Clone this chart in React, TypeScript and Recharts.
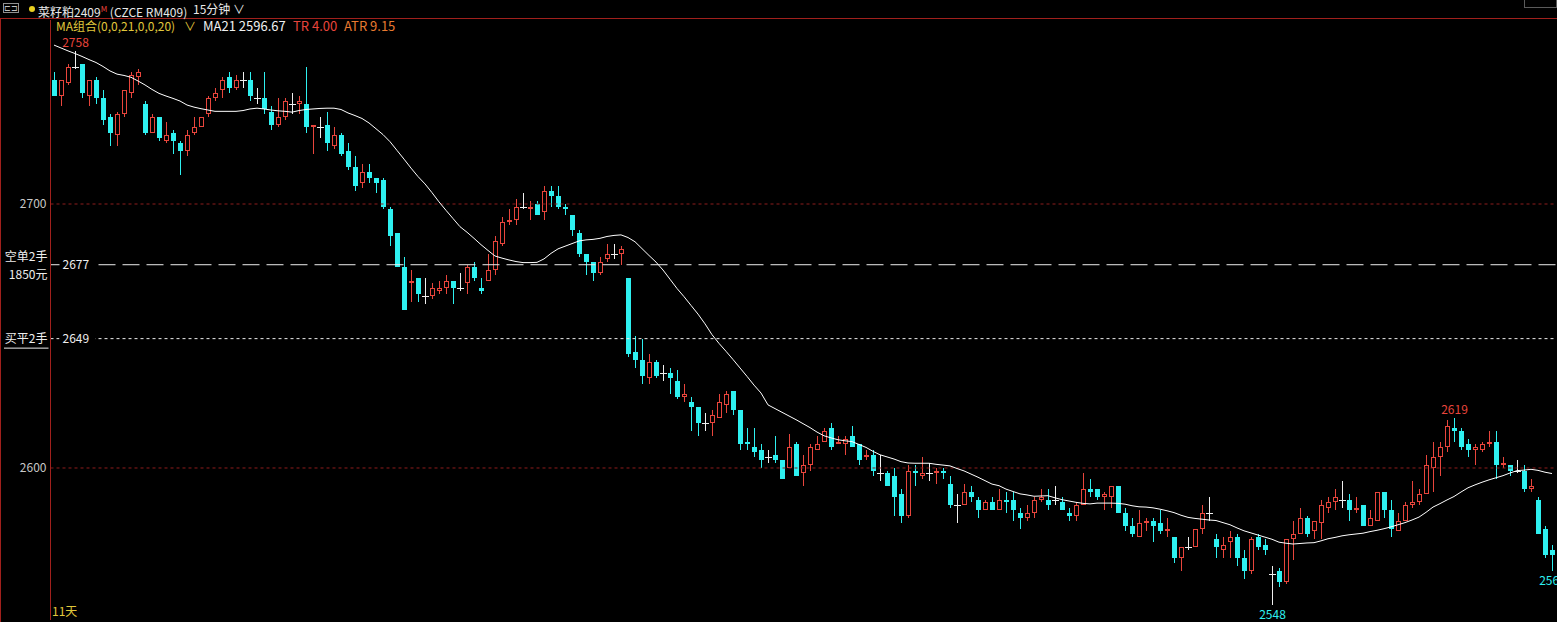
import React from 'react';
import { ComposedChart, Bar, Line, XAxis, YAxis, ReferenceLine } from 'recharts';

// ---------- data (15-minute bars, 菜籽粕2409) ----------
const opens = [
  2747, 2741, 2746, 2752, 2753, 2741, 2747, 2740, 2733, 2726,
  2734, 2742, 2748, 2738, 2727, 2733, 2724, 2727, 2723, 2720,
  2727, 2729, 2734, 2740, 2743, 2748, 2744, 2747, 2747, 2740,
  2740, 2735, 2730, 2733, 2738, 2738, 2738, 2729, 2729, 2730,
  2722, 2726, 2720, 2714, 2708, 2712, 2710, 2709, 2698, 2689,
  2676, 2670, 2672, 2665, 2665, 2667, 2668, 2671, 2668, 2670,
  2676, 2668, 2671, 2675, 2685, 2693, 2694, 2699, 2698, 2700,
  2697, 2705, 2703, 2699, 2696, 2689, 2681, 2678, 2674, 2679,
  2681, 2681, 2672, 2644, 2641, 2634, 2640, 2636, 2636, 2633,
  2627, 2625, 2623, 2617, 2617, 2619, 2624, 2629, 2622, 2610,
  2608, 2607, 2604, 2605, 2603, 2600, 2609, 2598, 2601, 2607,
  2610, 2615, 2609, 2609, 2612, 2609, 2604, 2605, 2598, 2598,
  2597, 2590, 2582, 2599, 2597, 2598, 2598, 2599, 2594, 2586,
  2586, 2591, 2588, 2584, 2587, 2584, 2588, 2588, 2583, 2581,
  2583, 2588, 2588, 2588, 2587, 2583, 2582, 2586, 2592, 2592,
  2589, 2589, 2593, 2583, 2578, 2574, 2579, 2580, 2579, 2576,
  2574, 2566, 2570, 2570, 2577, 2583, 2573, 2569, 2572, 2574,
  2566, 2561, 2574, 2571, 2560, 2561, 2557, 2573, 2575, 2581,
  2576, 2579, 2585, 2587, 2588, 2588, 2584, 2586, 2578, 2580,
  2591, 2584, 2576, 2580, 2586, 2587, 2590, 2600, 2604, 2608,
  2615, 2614, 2609, 2607, 2607, 2609, 2610, 2601, 2601, 2599,
  2599, 2592, 2588, 2577, 2569,
];
const highs = [
  2750, 2747, 2753, 2758, 2753, 2747, 2748, 2743, 2734, 2735,
  2743, 2750, 2751, 2739, 2734, 2733, 2731, 2728, 2724, 2728,
  2733, 2733, 2741, 2744, 2748, 2750, 2749, 2750, 2750, 2744,
  2750, 2737, 2740, 2740, 2742, 2741, 2752, 2730, 2733, 2735,
  2729, 2727, 2723, 2718, 2715, 2715, 2710, 2710, 2699, 2689,
  2680, 2675, 2672, 2672, 2670, 2671, 2673, 2671, 2674, 2677,
  2678, 2672, 2681, 2688, 2695, 2698, 2702, 2704, 2701, 2701,
  2707, 2707, 2707, 2700, 2696, 2690, 2681, 2678, 2680, 2685,
  2685, 2684, 2672, 2650, 2649, 2643, 2641, 2639, 2638, 2637,
  2632, 2627, 2623, 2621, 2622, 2628, 2629, 2629, 2622, 2615,
  2615, 2609, 2607, 2612, 2603, 2613, 2610, 2605, 2609, 2612,
  2615, 2617, 2612, 2612, 2616, 2609, 2607, 2607, 2605, 2599,
  2600, 2592, 2601, 2601, 2604, 2602, 2600, 2600, 2597, 2590,
  2594, 2593, 2589, 2588, 2589, 2592, 2591, 2591, 2585, 2586,
  2589, 2592, 2592, 2593, 2589, 2585, 2587, 2598, 2596, 2592,
  2591, 2593, 2593, 2585, 2581, 2584, 2581, 2581, 2584, 2581,
  2574, 2570, 2574, 2577, 2586, 2589, 2575, 2574, 2576, 2575,
  2569, 2574, 2575, 2573, 2563, 2562, 2573, 2580, 2585, 2582,
  2580, 2588, 2589, 2592, 2595, 2590, 2589, 2586, 2584, 2591,
  2591, 2588, 2583, 2587, 2595, 2592, 2605, 2610, 2610, 2618,
  2619, 2615, 2611, 2609, 2610, 2614, 2614, 2604, 2601, 2603,
  2601, 2596, 2589, 2578, 2571,
];
const lows = [
  2741, 2737, 2745, 2751, 2740, 2737, 2738, 2730, 2722, 2722,
  2733, 2740, 2745, 2726, 2727, 2724, 2723, 2719, 2711, 2718,
  2726, 2729, 2733, 2739, 2740, 2742, 2743, 2744, 2739, 2738,
  2734, 2728, 2729, 2732, 2734, 2734, 2727, 2719, 2725, 2720,
  2721, 2718, 2713, 2705, 2706, 2708, 2704, 2698, 2684, 2676,
  2660, 2663, 2663, 2662, 2664, 2666, 2666, 2662, 2667, 2666,
  2671, 2666, 2671, 2673, 2684, 2692, 2692, 2698, 2694, 2696,
  2694, 2699, 2698, 2696, 2688, 2680, 2673, 2671, 2673, 2678,
  2679, 2677, 2642, 2638, 2632, 2632, 2634, 2633, 2628, 2626,
  2625, 2614, 2612, 2614, 2612, 2619, 2621, 2620, 2607, 2607,
  2604, 2600, 2602, 2602, 2596, 2600, 2597, 2593, 2599, 2607,
  2610, 2607, 2609, 2605, 2608, 2601, 2603, 2597, 2595, 2593,
  2582, 2579, 2581, 2593, 2596, 2595, 2594, 2596, 2585, 2579,
  2586, 2587, 2581, 2584, 2584, 2584, 2583, 2580, 2577, 2580,
  2581, 2587, 2584, 2586, 2584, 2580, 2580, 2586, 2589, 2588,
  2584, 2585, 2583, 2576, 2574, 2574, 2576, 2572, 2575, 2574,
  2564, 2561, 2569, 2570, 2575, 2580, 2566, 2566, 2566, 2563,
  2558, 2560, 2569, 2567, 2548, 2555, 2556, 2565, 2575, 2574,
  2573, 2573, 2583, 2584, 2585, 2580, 2583, 2578, 2578, 2580,
  2581, 2574, 2576, 2580, 2585, 2586, 2590, 2591, 2597, 2606,
  2610, 2607, 2604, 2601, 2606, 2608, 2596, 2600, 2597, 2598,
  2591, 2591, 2575, 2566, 2561,
];
const closes = [
  2741, 2747, 2752, 2752, 2742, 2747, 2740, 2732, 2727, 2734,
  2743, 2749, 2750, 2727, 2733, 2725, 2726, 2724, 2720, 2726,
  2729, 2733, 2740, 2742, 2747, 2744, 2747, 2747, 2741, 2740,
  2736, 2730, 2733, 2739, 2738, 2739, 2729, 2730, 2729, 2723,
  2726, 2719, 2714, 2707, 2712, 2710, 2708, 2699, 2688, 2676,
  2660, 2671, 2666, 2665, 2668, 2668, 2671, 2668, 2668, 2676,
  2672, 2667, 2675, 2686, 2693, 2694, 2699, 2699, 2699, 2696,
  2705, 2703, 2699, 2698, 2690, 2681, 2678, 2674, 2678, 2681,
  2681, 2683, 2643, 2641, 2635, 2640, 2635, 2636, 2634, 2627,
  2628, 2623, 2617, 2617, 2620, 2625, 2628, 2622, 2609, 2609,
  2606, 2603, 2604, 2603, 2596, 2608, 2597, 2601, 2608, 2609,
  2614, 2608, 2610, 2611, 2608, 2603, 2605, 2599, 2598, 2593,
  2589, 2582, 2599, 2598, 2598, 2598, 2599, 2598, 2586, 2586,
  2591, 2589, 2584, 2587, 2584, 2588, 2587, 2584, 2581, 2583,
  2588, 2589, 2586, 2588, 2584, 2582, 2586, 2592, 2591, 2589,
  2590, 2593, 2583, 2578, 2575, 2579, 2580, 2578, 2576, 2577,
  2566, 2570, 2570, 2577, 2583, 2583, 2570, 2571, 2574, 2566,
  2561, 2573, 2570, 2569, 2560, 2557, 2573, 2575, 2581, 2575,
  2580, 2586, 2587, 2589, 2588, 2584, 2585, 2578, 2581, 2591,
  2584, 2577, 2580, 2586, 2587, 2590, 2601, 2604, 2608, 2616,
  2614, 2608, 2607, 2608, 2609, 2610, 2601, 2602, 2599, 2599,
  2592, 2593, 2575, 2567, 2567,
];
const ma21 = [
  2760.2, 2759.1, 2758.0, 2757.0, 2755.9, 2754.7, 2753.6, 2752.1, 2750.4, 2749.2,
  2748.7, 2748.0, 2746.6, 2745.1, 2743.4, 2741.9, 2740.9, 2740.0, 2739.0, 2737.5,
  2736.7, 2736.1, 2735.6, 2735.1, 2735.1, 2735.1, 2735.1, 2735.4, 2736.0, 2736.3,
  2736.0, 2735.6, 2735.3, 2735.1, 2734.8, 2735.4, 2735.8, 2736.0, 2736.2, 2736.3,
  2736.3, 2735.8, 2734.5, 2733.5, 2732.4, 2730.7, 2728.5, 2726.3, 2723.6, 2720.3,
  2717.0, 2713.6, 2710.4, 2707.6, 2704.3, 2700.8, 2697.6, 2694.5, 2691.4, 2689.3,
  2687.0, 2684.6, 2682.4, 2680.3, 2679.5, 2678.8, 2678.2, 2677.8, 2677.8, 2677.9,
  2679.2, 2681.3, 2683.0, 2684.0, 2685.0, 2686.0, 2686.4, 2686.6, 2687.0, 2687.7,
  2688.1, 2688.3, 2687.3, 2685.7, 2683.1, 2680.5, 2678.0, 2675.0, 2671.5, 2668.0,
  2664.9, 2661.6, 2658.3, 2654.6, 2650.5, 2647.2, 2644.2, 2641.1, 2637.9, 2634.7,
  2631.4, 2628.4, 2623.9, 2622.5, 2621.1, 2619.7, 2618.3, 2616.8, 2615.3, 2613.6,
  2612.2, 2611.4, 2610.7, 2610.3, 2610.0, 2608.9, 2607.8, 2606.3, 2605.0, 2604.2,
  2603.4, 2602.4, 2601.9, 2601.8, 2601.8, 2601.8, 2601.4, 2601.1, 2600.8, 2599.8,
  2598.9, 2597.7, 2596.5, 2595.2, 2593.9, 2593.3, 2592.0, 2591.1, 2590.2, 2589.8,
  2589.3, 2589.4, 2589.5, 2588.7, 2588.0, 2587.5, 2587.0, 2586.6, 2586.4, 2586.7,
  2586.7, 2586.7, 2586.6, 2586.3, 2585.7, 2585.3, 2585.2, 2584.9, 2584.4, 2583.8,
  2583.1, 2582.1, 2581.3, 2580.9, 2580.6, 2580.3, 2580.1, 2579.3, 2578.5, 2577.3,
  2576.2, 2575.4, 2574.6, 2573.8, 2573.0, 2571.9, 2571.5, 2571.2, 2571.4, 2571.6,
  2571.7, 2572.4, 2573.2, 2573.7, 2574.3, 2574.7, 2575.0, 2575.3, 2575.9, 2576.4,
  2577.0, 2577.7, 2578.5, 2579.3, 2580.3, 2581.4, 2583.2, 2585.2, 2586.5, 2587.9,
  2589.2, 2590.9, 2592.5, 2593.6, 2594.6, 2595.5, 2596.3, 2597.1, 2598.1, 2599.0,
  2599.2, 2599.5, 2599.1, 2598.4, 2597.9,
];
const highMarks = [3, 200];   // bars whose high is annotated
const lowMarks = [174, 214];  // bars whose low is annotated
const yTicks = [2700, 2600];
const shortOrder = { price: 2677, name: '空单2手', pnl: '1850元' };
const closeOrder = { price: 2649, name: '买平2手' };
const yDomain = [2542.42, 2769.7];

const data = opens.map((o, i) => ({
  i,
  open: o,
  high: highs[i],
  low: lows[i],
  close: closes[i],
  ma: ma21[i],
  range: [lows[i], highs[i]],
}));

// ---------- style ----------
const W = 1557;
const H = 622;
const RED = '#e8453c';
const CYAN = '#2ef0f0';
const WHITE = '#eeeeee';
const FRAME = '#a0201c';
const FONT = '"Noto Sans CJK SC", "Noto Sans", sans-serif';

function Candle(props: any) {
  const { x, y, width, height, payload } = props;
  if (!payload) return null;
  const { open, close, high, low, i } = payload;
  const h = Math.abs(height || 0);
  const top = height < 0 ? y + height : y;
  const k = high === low ? 0 : h / (high - low);
  const py = (p: number) => Math.round(top + (high - p) * k);
  const cx = Math.floor(x + width / 2) + 0.5;
  const yH = py(high);
  const yL = py(low);
  const els: any[] = [];
  if (close > open) {
    const yT = py(close);
    const yB = py(open);
    if (yT > yH) els.push(<line key="u" x1={cx} x2={cx} y1={yH} y2={yT} stroke={RED} />);
    if (yL > yB) els.push(<line key="d" x1={cx} x2={cx} y1={yB} y2={yL} stroke={RED} />);
    els.push(
      <rect key="b" x={cx - 2} y={yT + 0.5} width={4} height={Math.max(yB - yT - 1, 0)} fill="#000" stroke={RED} strokeWidth={1} />
    );
  } else if (close < open) {
    const yT = py(open);
    const yB = py(close);
    els.push(<line key="w" x1={cx} x2={cx} y1={yH} y2={yL} stroke={CYAN} />);
    els.push(<rect key="b" x={cx - 2.5} y={yT} width={5} height={Math.max(yB - yT, 1)} fill={CYAN} />);
  } else {
    const yo = py(open) + 0.5;
    els.push(<line key="w" x1={cx} x2={cx} y1={yH} y2={yL} stroke={WHITE} />);
    els.push(<line key="h" x1={cx - 3.5} x2={cx + 3.5} y1={yo} y2={yo} stroke={WHITE} />);
  }
  if (highMarks.includes(i)) {
    els.push(
      <text key="th" x={cx} y={yH - 4} textAnchor="middle" fill={RED} fontSize={12} fontFamily={FONT}>
        {high}
      </text>
    );
  }
  if (lowMarks.includes(i)) {
    els.push(
      <text key="tl" x={cx} y={yL + 14} textAnchor="middle" fill={CYAN} fontSize={12} fontFamily={FONT}>
        {low}
      </text>
    );
  }
  return <g>{els}</g>;
}

function OrderLabel(props: any) {
  const { viewBox, price, name, pnl } = props;
  if (!viewBox) return null;
  const x0 = viewBox.x;
  const yy = viewBox.y;
  return (
    <g fontFamily={FONT} fontSize={12}>
      <rect x={x0 + 9} y={yy - 8} width={36} height={16} fill="#000" />
      <text x={x0 + 12} y={yy + 4.5} fill={WHITE}>{price}</text>
      {pnl ? (
        <>
          <text x={x0 - 3} y={yy - 4} textAnchor="end" fill={WHITE}>{name}</text>
          <text x={x0 - 3} y={yy + 14} textAnchor="end" fill={WHITE}>{pnl}</text>
        </>
      ) : (
        <>
          <text x={x0 - 3} y={yy + 4.5} textAnchor="end" fill={WHITE}>{name}</text>
          <line x1={4} x2={x0 - 2} y1={yy + 9.5} y2={yy + 9.5} stroke={WHITE} />
        </>
      )}
    </g>
  );
}

export default function App() {
  return (
    <div style={{ position: 'absolute', left: 0, top: 0, width: W, height: H, background: '#000', overflow: 'hidden', fontFamily: FONT }}>
      <ComposedChart
        width={W}
        height={H}
        data={data}
        margin={{ top: 20, right: 1.5, bottom: 2, left: 0.5 }}
        barCategoryGap={0}
      >
        <XAxis dataKey="i" type="category" height={0} tick={false} tickLine={false} axisLine={{ stroke: FRAME }} interval={0} />
        <YAxis
          type="number"
          domain={yDomain}
          allowDataOverflow
          ticks={yTicks}
          width={50}
          tickSize={0}
          tickMargin={4}
          tickLine={false}
          axisLine={{ stroke: FRAME }}
          tick={{ fill: '#c8c8c8', fontSize: 12, fontFamily: FONT }}
        />
        {yTicks.map((t) => (
          <ReferenceLine key={t} y={t} stroke="#8c1c1c" strokeDasharray="3 3" />
        ))}
        <ReferenceLine
          y={shortOrder.price}
          stroke={WHITE}
          strokeDasharray="17 7"
          label={<OrderLabel price={shortOrder.price} name={shortOrder.name} pnl={shortOrder.pnl} />}
        />
        <ReferenceLine
          y={closeOrder.price}
          stroke={WHITE}
          strokeDasharray="3 3"
          label={<OrderLabel price={closeOrder.price} name={closeOrder.name} />}
        />
        <Bar dataKey="range" barSize={5} shape={<Candle />} isAnimationActive={false} />
        <Line dataKey="ma" type="linear" stroke="#ffffff" strokeWidth={1} dot={false} activeDot={false} isAnimationActive={false} />
      </ComposedChart>

      {/* frame pieces */}
      <div style={{ position: 'absolute', left: 0, top: 19, width: 1, height: H - 19, background: FRAME }} />
      <div style={{ position: 'absolute', left: 1524, top: -1, width: 33, height: 9, border: '1px solid #5a5a5a', boxSizing: 'border-box' }} />

      {/* header row 1 */}
      <div style={{ position: 'absolute', left: 0, top: 0, width: W, height: 19, borderBottom: `1px solid ${FRAME}`, boxSizing: 'border-box', fontSize: 12, color: '#e8e8e8', whiteSpace: 'nowrap' }}>
        <span style={{ position: 'absolute', left: 3, top: 3, width: 16, height: 10, border: '1px solid #909090', boxSizing: 'border-box', fontSize: 8, lineHeight: '8px', color: '#c0c0c0', textAlign: 'center' }}>⊏⊐</span>
        <span style={{ position: 'absolute', left: 29, top: 6, width: 6, height: 6, borderRadius: 3, background: '#e8d020' }} />
        <span style={{ position: 'absolute', left: 38, top: 1, lineHeight: '16px' }}>
          菜籽粕2409<sup style={{ color: RED, fontSize: 8 }}>M</sup> (CZCE RM409)
        </span>
        <span style={{ position: 'absolute', left: 193, top: 1, lineHeight: '16px' }}>15分钟 ∨</span>
      </div>
      {/* header row 2 */}
      <div style={{ position: 'absolute', left: 0, top: 18, width: 420, height: 16, fontSize: 12, lineHeight: '16px', whiteSpace: 'nowrap' }}>
        <span style={{ position: 'absolute', left: 56, color: '#e0c83c' }}>MA组合(0,0,21,0,0,20)</span>
        <span style={{ position: 'absolute', left: 184, color: '#e0c83c' }}>∨</span>
        <span style={{ position: 'absolute', left: 203, color: '#f0f0f0', fontSize: 13 }}>MA21 2596.67</span>
        <span style={{ position: 'absolute', left: 293, color: RED, fontSize: 13 }}>TR 4.00</span>
        <span style={{ position: 'absolute', left: 344, color: '#e87a30', fontSize: 13 }}>ATR 9.15</span>
      </div>
      <div style={{ position: 'absolute', left: 52, top: 603, fontSize: 12, lineHeight: '16px', color: '#e0c83c' }}>11天</div>
    </div>
  );
}
